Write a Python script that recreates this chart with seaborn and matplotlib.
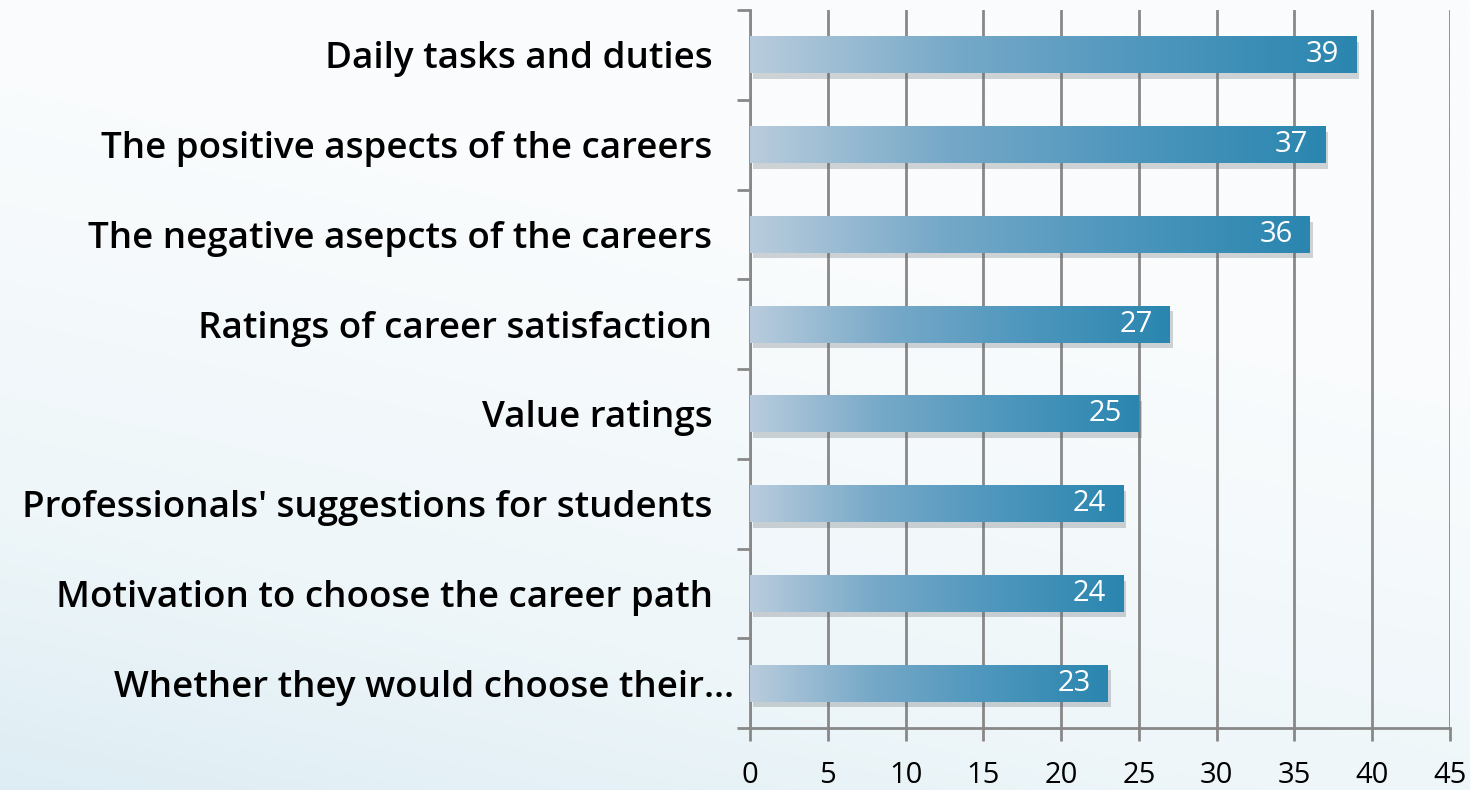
import numpy as np
import pandas as pd
import matplotlib
matplotlib.use('Agg')
import matplotlib.pyplot as plt
import seaborn as sns
from matplotlib.colors import LinearSegmentedColormap
from matplotlib.transforms import ScaledTranslation
import matplotlib.patheffects as pe

categories = [
    "Daily tasks and duties",
    "The positive aspects of the careers",
    "The negative asepcts of the careers",
    "Ratings of career satisfaction",
    "Value ratings",
    "Professionals' suggestions for students",
    "Motivation to choose the career path",
    "Whether they would choose their\u2026",
]
values = [39, 37, 36, 27, 25, 24, 24, 23]
x_ticks = [0, 5, 10, 15, 20, 25, 30, 35, 40, 45]

sns.set_theme(style='white')
plt.rcParams['font.family'] = ['Open Sans', 'DejaVu Sans']

fig = plt.figure(figsize=(14.7, 7.9), dpi=100)

# background gradient: white at top, light blue toward bottom-left
bg = fig.add_axes([0, 0, 1, 1], zorder=-10)
yy, xx = np.mgrid[0:1:300j, 0:1:300j]
t = np.clip((1 - yy) * 0.85 + (1 - xx) * 0.35 - 0.4, 0, 1)
bg_cmap = LinearSegmentedColormap.from_list('bg', ['#fafcfd', '#eef6f9', '#d3e7f0'])
bg.imshow(t, cmap=bg_cmap, extent=[0, 1, 0, 1], aspect='auto', origin='lower', vmin=0, vmax=1)
bg.axis('off')

ax = fig.add_axes([750 / 1470, 1 - 728 / 790, 700 / 1470, 718 / 790])
ax.patch.set_alpha(0)

df = pd.DataFrame({'topic': categories, 'count': values})
sns.barplot(data=df, x='count', y='topic', orient='h', color='#2a86af',
            saturation=1, width=0.41, ax=ax, zorder=3)

bar_cmap = LinearSegmentedColormap.from_list('bar', ['#b9ccdd', '#77a9c8', '#4d96bd', '#2a86af'])
grad = np.linspace(0, 1, 256).reshape(1, -1)
for p in ax.patches:
    x0, y0 = p.get_x(), p.get_y()
    w, h = p.get_width(), p.get_height()
    p.set_edgecolor('none')
    p.set_path_effects([pe.SimplePatchShadow(offset=(2, -4), shadow_rgbFace='#5a6670', alpha=0.28),
                        pe.Normal()])
    im = ax.imshow(grad, cmap=bar_cmap, extent=[x0, x0 + w, y0 + h, y0],
                   aspect='auto', zorder=4, interpolation='bicubic')
    im.set_clip_path(p)

n = len(categories)
ax.set_xlim(x_ticks[0], x_ticks[-1])
ax.set_ylim(n - 0.5, -0.5)

for i, v in enumerate(values):
    ax.text(v - 1.1, i, str(v), ha='right', va='center', color='white',
            fontsize=21, zorder=6)

ax.set_xticks(x_ticks)
ax.set_xticklabels([str(v) for v in x_ticks])
ax.set_yticks(np.arange(-0.5, n + 0.5, 1))
ax.set_yticklabels([])
ax.set_yticks(np.arange(n), labels=categories, minor=True)

ax.xaxis.grid(True, color='#888888', lw=2, zorder=0)
ax.set_axisbelow(True)
ax.set_xlabel('')
ax.set_ylabel('')

for s in ['top', 'right']:
    ax.spines[s].set_visible(False)
for s in ['left', 'bottom']:
    ax.spines[s].set_color('#888888')
    ax.spines[s].set_linewidth(2)

ax.tick_params(axis='x', which='major', direction='out', length=9.5, width=2,
               color='#888888', labelsize=21, pad=14, labelcolor='black', bottom=True)
ax.tick_params(axis='y', which='major', direction='out', length=9.5, width=2,
               color='#888888', left=True)
ax.tick_params(axis='y', which='minor', length=0, pad=27, labelsize=26.5, left=False)
minor_labels = ax.get_yticklabels(minor=True)
for lbl in minor_labels:
    lbl.set_fontweight('semibold')
    lbl.set_color('black')
# the truncated last label sits closer to the axis in the original
last = minor_labels[-1]
last.set_transform(last.get_transform() + ScaledTranslation(0.22, 0, fig.dpi_scale_trans))

fig.savefig('out.png', dpi=100)
